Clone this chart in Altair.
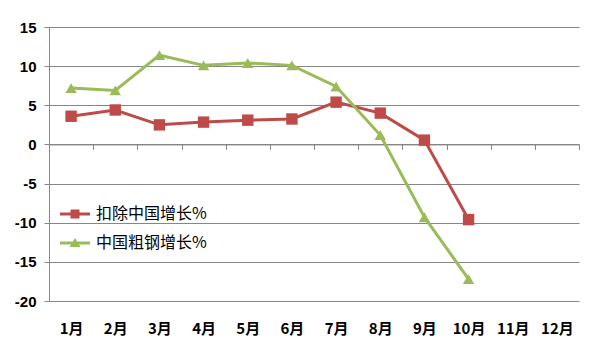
import altair as alt
import pandas as pd

months = ["1月", "2月", "3月", "4月", "5月", "6月", "7月", "8月", "9月", "10月", "11月", "12月"]
series_names = ["扣除中国增长%", "中国粗钢增长%"]
ex_china = [3.6, 4.4, 2.5, 2.85, 3.1, 3.25, 5.4, 4.0, 0.55, -9.6]
china = [7.2, 6.9, 11.4, 10.1, 10.4, 10.1, 7.4, 1.2, -9.3, -17.2]
y_ticks = [-20, -15, -10, -5, 0, 5, 10, 15]

colors = ["#BE4B48", "#9BBB59"]
rows = []
for name, vals in zip(series_names, [ex_china, china]):
    for m, v in zip(months, vals):
        rows.append({"month": m, "series": name, "value": v})
df = pd.DataFrame(rows)

W, H = 530, 274
x_offset = -(H - H * 15 / 35)

x_enc = alt.X("month:N", sort=months, scale=alt.Scale(domain=months, paddingInner=0, paddingOuter=0),
              axis=alt.Axis(title=None, orient="bottom", offset=x_offset, tickBand="extent",
                            domainColor="#868686", tickColor="#868686", tickSize=5,
                            labelPadding=172, labelBaseline="top", labelAngle=0,
                            labelFont="Noto Sans CJK SC", labelFontSize=15, labelFontWeight="bold",
                            labelColor="#000000", grid=False))
y_enc = alt.Y("value:Q", scale=alt.Scale(domain=[-20, 15], nice=False, zero=False),
              axis=alt.Axis(title=None, values=y_ticks, grid=True, gridColor="#868686",
                            domainColor="#868686", tickColor="#868686", tickSize=5,
                            labelPadding=8, labelFont="Liberation Sans", labelFontSize=15,
                            labelFontWeight="bold", labelColor="#000000",
                            labelExpr="'' + datum.value"))
color_scale = alt.Scale(domain=series_names, range=colors)

lines = alt.Chart(df).mark_line(strokeWidth=3).encode(
    x=x_enc, y=y_enc,
    color=alt.Color("series:N", scale=color_scale, legend=None),
    detail="series:N",
)
points = alt.Chart(df).mark_point(filled=True, opacity=1, size=130).encode(
    x=x_enc, y=y_enc,
    color=alt.Color("series:N", scale=color_scale, legend=None),
    shape=alt.Shape("series:N", scale=alt.Scale(domain=series_names, range=["square", "triangle-up"]), legend=None),
)

leg_paths = [
    "M-1,-0.1 H1 V0.1 H-1 Z M-0.3,-0.3 H0.3 V0.3 H-0.3 Z",
    "M-1,-0.1 H1 V0.1 H-1 Z M0,-0.33 L0.37,0.27 L-0.37,0.27 Z",
]
legend_layer = alt.Chart(pd.DataFrame({"legend_series": series_names})).mark_point(
    filled=True, size=900, opacity=0, color="#BE4B48").encode(
    fill=alt.Fill("legend_series:N", scale=alt.Scale(domain=series_names, range=colors), legend=None),
    shape=alt.Shape("legend_series:N", scale=alt.Scale(domain=series_names, range=leg_paths),
                    legend=alt.Legend(title=None, orient="none", legendX=11, legendY=172,
                                      symbolOpacity=1, symbolSize=900, symbolStrokeWidth=0,
                                      labelFont="Noto Sans CJK SC", labelFontSize=16, labelColor="#000000",
                                      rowPadding=6, labelOffset=6)),
)

chart = alt.layer(lines, points, legend_layer).resolve_scale(
    shape="independent", fill="independent"
).resolve_legend(shape="independent").properties(
    width=W, height=H,
    autosize=alt.AutoSizeParams(type="none"),
    padding={"left": 49, "top": 27, "right": 23, "bottom": 61},
).configure_view(stroke=None).configure_axis(domainWidth=1)

chart.save("out.html", embed_options={"renderer": "svg", "actions": False})
